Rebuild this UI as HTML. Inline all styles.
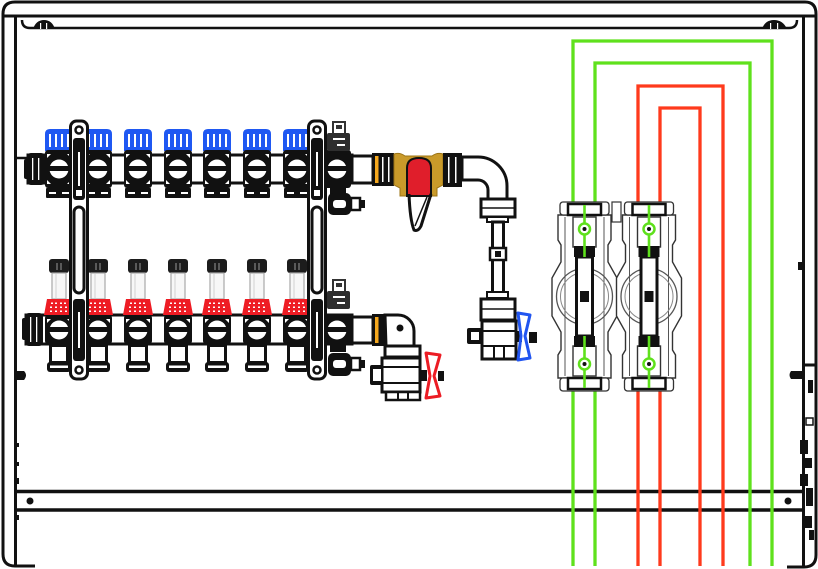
<!DOCTYPE html>
<html><head><meta charset="utf-8"><style>html,body{margin:0;padding:0;background:#fff}svg{display:block}</style></head>
<body>
<svg width="818" height="569" viewBox="0 0 818 569" xmlns="http://www.w3.org/2000/svg">
<defs>
<g id="ot">
  <path d="M-14 151 V134 Q-14 129 -9 129 H9 Q14 129 14 134 V151 Z" fill="#1f58f2"/>
  <rect x="-10" y="134" width="2" height="13" fill="#fff"/>
  <rect x="-4" y="134" width="2" height="13" fill="#fff"/>
  <rect x="2" y="134" width="2" height="13" fill="#fff"/>
  <rect x="8" y="134" width="2" height="13" fill="#fff"/>
  <rect x="-14" y="150" width="28" height="38" rx="3" fill="#111"/>
  <circle cx="0" cy="169" r="9.5" fill="#fff"/>
  <rect x="-11" y="166" width="22" height="5" fill="#111"/>
  <path d="M-12 154 L-8 154 L-12 158 Z M12 154 L8 154 L12 158Z M-12 184 L-8 184 L-12 180Z M12 184 L8 184 L12 180Z" fill="#fff"/>
  <rect x="-13" y="188" width="26" height="10" rx="1" fill="#111"/>
  <rect x="-10" y="192" width="7" height="2" fill="#fff"/>
  <rect x="3" y="192" width="7" height="2" fill="#fff"/>
</g>
<g id="ob">
  <rect x="-10" y="259" width="20" height="14" rx="3" fill="#1c1c1c"/>
  <rect x="-2.5" y="263" width="1" height="7" fill="#999"/>
  <rect x="1.5" y="263" width="1" height="7" fill="#999"/>
  <rect x="-7" y="273" width="14" height="26" fill="#f7f7f7" stroke="#a8a8a8" stroke-width="1.2"/>
  <line x1="-3" y1="274" x2="-3" y2="298" stroke="#d0d0d0"/>
  <path d="M-12 299 H12 L15 315 H-15 Z" fill="#ee1c24"/>
  <g fill="#fff">
    <rect x="-8" y="302.5" width="2" height="1.5"/><rect x="-4" y="302.5" width="2" height="1.5"/><rect x="1" y="302.5" width="2" height="1.5"/><rect x="5" y="302.5" width="2" height="1.5"/>
    <rect x="-9" y="306.5" width="2" height="1.5"/><rect x="-4" y="306.5" width="2" height="1.5"/><rect x="1" y="306.5" width="2" height="1.5"/><rect x="6" y="306.5" width="2" height="1.5"/>
    <rect x="-9" y="310.5" width="2" height="1.5"/><rect x="-4" y="310.5" width="2" height="1.5"/><rect x="1" y="310.5" width="2" height="1.5"/><rect x="6" y="310.5" width="2" height="1.5"/>
  </g>
  <rect x="-14" y="315" width="28" height="29" rx="3" fill="#111"/>
  <circle cx="0" cy="330" r="9.5" fill="#fff"/>
  <rect x="-11" y="327" width="22" height="5" fill="#111"/>
  <path d="M-12 319 L-8 319 L-12 323 Z M12 319 L8 319 L12 323Z" fill="#fff"/>
  <rect x="-8.5" y="345.5" width="17" height="17" fill="#fff" stroke="#111" stroke-width="3"/>
  <rect x="-12" y="362" width="24" height="10" rx="3" fill="#111"/>
  <rect x="-9" y="365.5" width="18" height="2.5" fill="#fff"/>
</g>
<g id="br">
  <rect x="-8.5" y="121" width="17" height="258" rx="6" fill="#fff" stroke="#111" stroke-width="3"/>
  <circle cx="0" cy="130" r="3.5" fill="none" stroke="#111" stroke-width="2.5"/>
  <circle cx="0" cy="370" r="3.5" fill="none" stroke="#111" stroke-width="2.5"/>
  <rect x="-6" y="138" width="12" height="62" rx="3" fill="#111"/>
  <rect x="-1" y="152" width="2" height="34" fill="#fff"/>
  <rect x="-3" y="190" width="6" height="6" fill="#fff"/>
  <rect x="-5" y="207" width="10" height="86" rx="5" fill="#fff" stroke="#111" stroke-width="3"/>
  <rect x="-6" y="299" width="12" height="62" rx="3" fill="#111"/>
  <rect x="-1" y="312" width="2" height="36" fill="#fff"/>
</g>
<g id="box">
  <path d="M558 215 V240 L561 245 V262 L552 278 V316 L561 332 V350 L558 355 V378 H611 V355 L608 350 V332 L617 316 V278 L608 262 V245 L611 240 V215 Z" fill="#fff" stroke="#333" stroke-width="1.4"/>
  <line x1="565" y1="217" x2="565" y2="376" stroke="#555" stroke-width="1"/>
  <line x1="604" y1="217" x2="604" y2="376" stroke="#555" stroke-width="1"/>
  <circle cx="584.5" cy="296.5" r="28" fill="none" stroke="#555" stroke-width="1.3"/>
  <circle cx="584.5" cy="296.5" r="24" fill="none" stroke="#888" stroke-width="1"/>
  <rect x="560" y="202" width="49" height="13" rx="3" fill="#fff" stroke="#333" stroke-width="1.3"/>
  <rect x="568" y="204" width="33" height="11" fill="none" stroke="#111" stroke-width="2.5"/>
  <rect x="560" y="378" width="49" height="13" rx="3" fill="#fff" stroke="#333" stroke-width="1.3"/>
  <rect x="568" y="378" width="33" height="11" fill="none" stroke="#111" stroke-width="2.5"/>
  <rect x="573" y="217" width="23" height="30" fill="#fff" stroke="#333" stroke-width="1.4"/>
  <rect x="573" y="346" width="23" height="30" fill="#fff" stroke="#333" stroke-width="1.4"/>
  <rect x="574" y="246" width="21" height="11" fill="#111"/>
  <rect x="574" y="336" width="21" height="11" fill="#111"/>
  <rect x="576.5" y="257" width="16" height="79" fill="#fff" stroke="#111" stroke-width="3"/>
  <rect x="580" y="291" width="9" height="11" fill="#111"/>
  <line x1="584.5" y1="205" x2="584.5" y2="257" stroke="#5fe11c" stroke-width="2.6"/>
  <line x1="584.5" y1="336" x2="584.5" y2="388" stroke="#5fe11c" stroke-width="2.6"/>
  <circle cx="584.5" cy="229" r="5.5" fill="#fff" stroke="#5fe11c" stroke-width="2.5"/>
  <circle cx="584.5" cy="229" r="2" fill="#111"/>
  <circle cx="584.5" cy="364" r="5.5" fill="#fff" stroke="#5fe11c" stroke-width="2.5"/>
  <circle cx="584.5" cy="364" r="2" fill="#111"/>
</g>
</defs>

<!-- frame -->
<g fill="none" stroke="#111" stroke-width="3">
  <path d="M35 566 H15 Q3 566 3 554 V14 Q3 2 15 2 H805 Q816 2 816 14 V555 Q816 567 804 567 H787"/>
  <path d="M3 16 H817"/>
  <path d="M15.5 16 V566"/>
  <path d="M803.5 16 V566"/>
  <path d="M22 20 Q22 28 30 28 H789 Q797 28 797 20" stroke-width="2.5"/>
  <path d="M803 365 H816"/>
  <path d="M17 491.5 H803 M17 510 H803" stroke-width="3.5"/>
</g>
<path d="M33 29 Q36 20 44 20 Q52 20 55 29 Z" fill="#111"/>
<path d="M762 29 Q765 20 774 20 Q783 20 787 29 Z" fill="#111"/>
<g fill="#fff"><rect x="40" y="23" width="1.2" height="6"/><rect x="46" y="23" width="1.2" height="6"/><rect x="770" y="23" width="1.2" height="6"/><rect x="777" y="23" width="1.2" height="6"/></g>
<circle cx="30" cy="501" r="3.5" fill="#111"/>
<circle cx="788" cy="501" r="3.5" fill="#111"/>
<!-- edge details -->
<g fill="#111">
  <path d="M15 371 H24 Q28 375 24 380 H15 Z"/>
  <rect x="15" y="443" width="4" height="4"/><rect x="15" y="462" width="4" height="4"/><rect x="15" y="478" width="4" height="6"/><rect x="15" y="515" width="4" height="5"/>
  <rect x="798" y="262" width="4" height="8"/>
  <path d="M803 371 H791 Q788 375 791 379 H803 Z"/>
  <rect x="808" y="380" width="5" height="13"/>
  <rect x="806" y="418" width="7" height="7" fill="none" stroke="#111" stroke-width="1.5"/>
  <rect x="800" y="440" width="8" height="14"/><rect x="803" y="458" width="9" height="10"/>
  <rect x="800" y="474" width="8" height="12"/><rect x="806" y="488" width="7" height="18"/>
  <rect x="802" y="516" width="10" height="12"/><rect x="809" y="530" width="5" height="10"/>
</g>

<!-- pipes -->
<g fill="none" stroke-width="3.3" stroke-linejoin="miter">
  <path d="M573 203 V41 H772 V566 M573 390 V566" stroke="#5fe11c"/>
  <path d="M595 203 V63 H750 V566 M595 390 V566" stroke="#5fe11c"/>
  <path d="M638 203 V86 H723 V566 M638 390 V566" stroke="#ff3a1c"/>
  <path d="M660 203 V108 H700 V566 M660 390 V566" stroke="#ff3a1c"/>
</g>
<!-- valve boxes -->
<use href="#box"/>
<use href="#box" x="64.5"/>
<rect x="612" y="202" width="9" height="20" fill="#fff" stroke="#333" stroke-width="1.2"/>

<!-- manifold bars -->
<line x1="15" y1="158" x2="28" y2="158" stroke="#111" stroke-width="2.5"/>
<rect x="28" y="155" width="324" height="28" fill="#fff" stroke="#111" stroke-width="3"/>
<rect x="26" y="315" width="326" height="29" fill="#fff" stroke="#111" stroke-width="3"/>
<rect x="27" y="153" width="18" height="32" rx="4" fill="#111"/>
<rect x="24" y="159" width="6" height="20" rx="2" fill="#111"/>
<rect x="25" y="313" width="18" height="33" rx="4" fill="#111"/>
<rect x="22" y="318" width="6" height="22" rx="2" fill="#111"/>
<g fill="#fff"><rect x="32" y="158" width="1.3" height="22"/><rect x="38" y="158" width="1.3" height="22"/><rect x="30" y="317" width="1.3" height="25"/><rect x="36" y="317" width="1.3" height="25"/></g>

<use href="#ot" x="59"/><use href="#ot" x="98"/><use href="#ot" x="138"/><use href="#ot" x="178"/><use href="#ot" x="217"/><use href="#ot" x="257"/><use href="#ot" x="297"/>
<use href="#ob" x="59"/><use href="#ob" x="98"/><use href="#ob" x="138"/><use href="#ob" x="178"/><use href="#ob" x="217"/><use href="#ob" x="257"/><use href="#ob" x="297"/>

<!-- 8th outlet bodies -->
<rect x="323" y="150" width="28" height="38" rx="3" fill="#111"/>
<circle cx="337" cy="169" r="9.5" fill="#fff"/><rect x="326" y="166" width="22" height="5" fill="#111"/>
<rect x="330" y="187" width="16" height="8" fill="#111"/>
<rect x="323" y="315" width="28" height="29" rx="3" fill="#111"/>
<circle cx="337" cy="330" r="9.5" fill="#fff"/><rect x="326" y="327" width="22" height="5" fill="#111"/>
<rect x="330" y="343" width="16" height="9" fill="#111"/>
<!-- vents -->
<rect x="333" y="122" width="12" height="12" fill="#fff" stroke="#333" stroke-width="2"/>
<rect x="336" y="125" width="6" height="4" fill="#333"/>
<rect x="327" y="133" width="23" height="18" rx="2" fill="#2e2e2e"/>
<rect x="333" y="138" width="12" height="2" fill="#fff"/><rect x="337" y="144" width="8" height="2" fill="#fff"/>
<rect x="333" y="280" width="12" height="12" fill="#fff" stroke="#333" stroke-width="2"/>
<rect x="336" y="283" width="6" height="4" fill="#333"/>
<rect x="327" y="291" width="23" height="18" rx="2" fill="#2e2e2e"/>
<rect x="333" y="296" width="12" height="2" fill="#fff"/><rect x="337" y="302" width="8" height="2" fill="#fff"/>
<!-- drains -->
<g>
  <rect x="328" y="193" width="23" height="22" rx="5" fill="#111"/>
  <rect x="333" y="200" width="13" height="8" rx="3" fill="#fff"/>
  <rect x="351" y="198" width="9" height="12" fill="#fff" stroke="#111" stroke-width="2.5"/>
  <rect x="360" y="200" width="5" height="8" fill="#111"/>
  <rect x="328" y="353" width="23" height="23" rx="5" fill="#111"/>
  <rect x="333" y="360" width="13" height="8" rx="3" fill="#fff"/>
  <rect x="351" y="358" width="9" height="12" fill="#fff" stroke="#111" stroke-width="2.5"/>
  <rect x="360" y="360" width="5" height="8" fill="#111"/>
</g>
<use href="#br" x="79"/>
<use href="#br" x="317"/>

<!-- top right connection -->
<rect x="352" y="156" width="21" height="27" fill="#fff" stroke="#111" stroke-width="3"/>
<rect x="372" y="153" width="22" height="33" fill="#111"/>
<rect x="375" y="156" width="3.5" height="27" fill="#f5a81e"/>
<rect x="382" y="157" width="1.5" height="25" fill="#fff"/><rect x="388" y="157" width="1.5" height="25" fill="#fff"/>
<path d="M394 154 Q400 152 405 156 L432 156 Q437 152 443 154 L443 185 L437 188 L437 196 L400 196 L400 188 L394 185 Z" fill="#c99a2a" stroke="#9c7416" stroke-width="1"/>
<path d="M407 196 L407 168 Q407 158 419 158 Q431 158 431 168 L431 196 Z" fill="#e01e2b" stroke="#111" stroke-width="2"/>
<path d="M409 194 Q410 220 414 230 Q418 232 421 226 L431 194" fill="none" stroke="#111" stroke-width="3"/>
<path d="M415 226 L427 197" fill="none" stroke="#111" stroke-width="1.5"/>
<rect x="443" y="153" width="19" height="34" fill="#111"/>
<rect x="448" y="157" width="1.5" height="26" fill="#fff"/><rect x="455" y="157" width="1.5" height="26" fill="#fff"/>
<path d="M462 157 H478 A29 29 0 0 1 507 186 V200 H488 V190 A10 10 0 0 0 478 180 H462 Z" fill="#fff" stroke="#111" stroke-width="3"/>
<rect x="481" y="199" width="34" height="18" fill="#fff" stroke="#111" stroke-width="3"/>
<line x1="481" y1="208" x2="515" y2="208" stroke="#111" stroke-width="1.5"/>
<rect x="487" y="217" width="21" height="5" fill="#fff" stroke="#111" stroke-width="2"/>
<rect x="492.5" y="222" width="11" height="71" fill="#fff" stroke="#111" stroke-width="3"/>
<rect x="490" y="248" width="16" height="12" fill="#fff" stroke="#111" stroke-width="2.5"/>
<rect x="495" y="251" width="6" height="6" fill="#111"/>
<rect x="487" y="292" width="21" height="6" fill="#fff" stroke="#111" stroke-width="2"/>
<rect x="481" y="299" width="34" height="21" fill="#fff" stroke="#111" stroke-width="3"/>
<line x1="481" y1="309" x2="515" y2="309" stroke="#111" stroke-width="1.5"/>
<rect x="482" y="321" width="34" height="38" fill="#fff" stroke="#111" stroke-width="3"/>
<line x1="482" y1="331" x2="516" y2="331" stroke="#111" stroke-width="2"/>
<line x1="482" y1="346" x2="516" y2="346" stroke="#111" stroke-width="2"/>
<line x1="494" y1="346" x2="494" y2="359" stroke="#111" stroke-width="2"/>
<line x1="504" y1="346" x2="504" y2="359" stroke="#111" stroke-width="2"/>
<rect x="467" y="328" width="15" height="16" rx="2" fill="#111"/>
<rect x="471" y="332" width="8" height="8" fill="#fff"/>
<rect x="515" y="331" width="7" height="11" fill="#111"/>
<path d="M518 313 L530 315 L525 336 L530 358 L518 360 L521 336 Z" fill="none" stroke="#2155f0" stroke-width="3" stroke-linejoin="round"/>
<rect x="529" y="332" width="8" height="11" fill="#111"/>

<!-- bottom right connection -->
<rect x="352" y="317" width="21" height="26" fill="#fff" stroke="#111" stroke-width="3"/>
<rect x="372" y="314" width="13" height="32" fill="#111"/>
<rect x="375" y="317" width="3.5" height="26" fill="#f5a81e"/>
<path d="M385 315 H398 A16 16 0 0 1 414 331 V346 H386 Z" fill="#fff" stroke="#111" stroke-width="3"/>
<circle cx="400" cy="328" r="3.5" fill="#111"/>
<rect x="385" y="346" width="35" height="11" fill="#fff" stroke="#111" stroke-width="3"/>
<rect x="382" y="358" width="38" height="34" fill="#fff" stroke="#111" stroke-width="3"/>
<line x1="382" y1="367" x2="420" y2="367" stroke="#111" stroke-width="2"/>
<line x1="382" y1="383" x2="420" y2="383" stroke="#111" stroke-width="2"/>
<rect x="370" y="365" width="13" height="20" rx="2" fill="#111"/>
<rect x="373" y="369" width="8" height="12" fill="#fff"/>
<rect x="386" y="392" width="34" height="8" fill="#fff" stroke="#111" stroke-width="2.5"/>
<line x1="398" y1="392" x2="398" y2="400" stroke="#111" stroke-width="2"/>
<line x1="408" y1="392" x2="408" y2="400" stroke="#111" stroke-width="2"/>
<rect x="419" y="370" width="8" height="11" fill="#111"/>
<path d="M426 353 L440 355 L434 376 L440 396 L426 398 L430 376 Z" fill="none" stroke="#ec1c24" stroke-width="3" stroke-linejoin="round"/>
<rect x="438" y="371" width="6" height="10" fill="#111"/>
</svg>
</body></html>
